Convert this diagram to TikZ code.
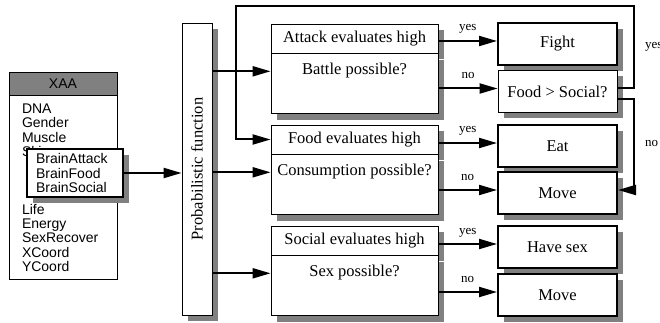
\documentclass[tikz,border=0pt]{standalone}
\usepackage{fontspec}
\setmainfont{Liberation Serif}
\setsansfont{Liberation Sans}
\usetikzlibrary{arrows.meta}
\definecolor{shadowGrey}{rgb}{0.5,0.5,0.5}
\definecolor{headGrey}{rgb}{0.5,0.5,0.5}
\newcommand{\serifText}{\fontsize{16.5}{19}\selectfont}
\newcommand{\sansText}{\sffamily\fontsize{14}{14.4}\selectfont}
\newcommand{\decisionBox}[4]{%%
  %% Header with the evaluation, body with the question.
  \node[headStyle] (#1Head) at (#2) {#3};
  \node[bodyStyle,anchor=north] (#1Body) at (#1Head.south) {#4};
}
\newcommand{\outcome}[3]{%%
  %% Labelled arrow from a decision to an action box.
  \draw[arrowStyle] ([yshift=3pt]#2.west -| #1.east) --
    node[labelStyle,above=4pt] {#3} ([yshift=3pt]#2.west);
}
\newcommand{\askArrow}[1]{%%
  \draw[arrowStyle] ([yshift=3pt]#1Body.base -| prob.east) --
    ([yshift=3pt]#1Body.base -| #1Body.west);
}

\begin{document}
\begin{tikzpicture}[x=1pt,y=-1pt,%%
  shadowStyle/.style={preaction={draw=none,fill=shadowGrey,transform canvas={xshift=6pt,yshift=-6pt}}},%%
  headStyle/.style={draw,line width=0.8pt,fill=white,shadowStyle,minimum width=167pt,minimum height=29pt,inner sep=0pt,font=\serifText},%%
  bodyStyle/.style={draw,line width=0.8pt,fill=white,shadowStyle,minimum width=167pt,inner xsep=2pt,inner ysep=0pt,text height=20.5pt,text depth=39.5pt,font=\serifText},%%
  actionStyle/.style={draw,line width=2pt,fill=white,shadowStyle,minimum width=119pt,minimum height=42pt,inner sep=0pt,font=\serifText},%%
  arrowStyle/.style={line width=2pt,-{Triangle[length=18pt,width=10pt]}},%%
  labelStyle/.style={font=\fontsize{13}{15}\selectfont,inner sep=2pt,text depth=3pt}
]
\useasboundingbox (0,0) rectangle (660,323);
%%
%% The agent record and its brain.
\node[draw,line width=0.8pt,fill=headGrey,minimum width=108pt,minimum height=23pt,inner sep=0pt,font=\sansText] (xaaHead) at (63,83.5) {XAA};
\node[draw,line width=0.8pt,fill=white,anchor=north,minimum width=108pt,minimum height=184pt,inner xsep=13pt,text width=82pt,align=left,font=\sansText] (xaaBody) at (xaaHead.south) {DNA\\Gender\\Muscle\\Skin\\[43.2pt]Life\\Energy\\SexRecover\\XCoord\\YCoord};
\node[draw,line width=2pt,fill=white,shadowStyle,minimum width=96pt,minimum height=48pt,inner xsep=9pt,text width=78pt,align=left,font=\sansText] (brain) at (75,173) {BrainAttack\\BrainFood\\BrainSocial};
\node[draw,line width=0.8pt,fill=white,shadowStyle,minimum width=30pt,minimum height=292pt,inner sep=0pt,font=\serifText] (prob) at (197,169) {\rotatebox{90}{Probabilistic function}};
%%
%% Decisions.
\decisionBox{atk}{354.5,38.5}{Attack evaluates high}{Battle possible?}
\decisionBox{food}{354.5,139.5}{Food evaluates high}{Consumption possible?}
\decisionBox{soc}{354.5,240.5}{Social evaluates high}{Sex possible?}
%%
%% Actions.
\node[actionStyle] (fight) at (557.5,44) {Fight};
\node[actionStyle,line width=0.8pt] (foodSoc) at (557.5,91.5) {Food > Social?};
\node[actionStyle] (eat) at (557.5,146) {Eat};
\node[actionStyle] (move1) at (557.5,193) {Move};
\node[actionStyle] (haveSex) at (557.5,247) {Have sex};
\node[actionStyle] (move2) at (557.5,295) {Move};
%%
%% Connectors.
\draw[arrowStyle] (brain.east) -- (brain.east -| prob.west);
\askArrow{atk}
\askArrow{food}
\askArrow{soc}
\outcome{atkHead}{fight}{yes}
\outcome{atkBody}{foodSoc}{no}
\outcome{foodHead}{eat}{yes}
\outcome{foodBody}{move1}{no}
\outcome{socHead}{haveSex}{yes}
\outcome{socBody}{move2}{no}
%% Loop back from the comparison.
\coordinate (yesRight) at (634,6);
\coordinate (yesLeft) at (236,6);
\draw[arrowStyle] ([yshift=3pt]foodSoc.east) -| node[labelStyle,pos=0.75,right=8pt] {yes} (yesRight) -- (yesLeft) |- (foodHead.west);
\draw[arrowStyle] ([yshift=-8pt]foodSoc.east) -| node[labelStyle,pos=0.75,right=8pt] {no} ([yshift=3pt]move1.east -| yesRight) -- ([yshift=3pt]move1.east);
\end{tikzpicture}
\end{document}
